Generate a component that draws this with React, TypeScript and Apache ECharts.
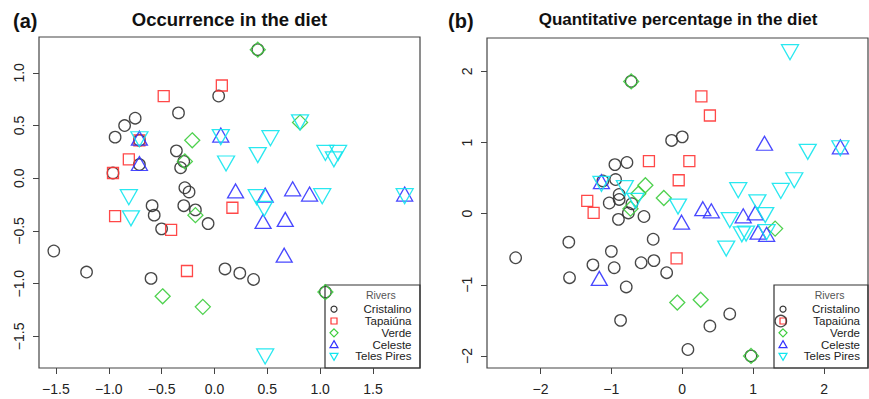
import React, { useEffect, useRef } from "react";
import * as echarts from "echarts";

// ---------- categories ----------
const rivers = ["Cristalino", "Tapaiúna", "Verde", "Celeste", "Teles Pires"];
const riverColors = ["#333333", "#ff3434", "#3ccc3c", "#3434ff", "#12e6ee"];

// ---------- tick labels ----------
const occXTicks = [-1.5, -1.0, -0.5, 0.0, 0.5, 1.0, 1.5];
const occYTicks = [-1.5, -1.0, -0.5, 0.0, 0.5, 1.0];
const quaXTicks = [-2, -1, 0, 1, 2];
const quaYTicks = [-2, -1, 0, 1, 2];

// ---------- (a) Occurrence in the diet ----------
const occCristalino = [
  [-0.94, 0.39], [-0.85, 0.5], [-0.75, 0.57], [-0.34, 0.62], [0.04, 0.78],
  [-0.36, 0.26], [-0.29, 0.16], [-0.32, 0.1], [-0.96, 0.05], [-0.71, 0.36],
  [-0.71, 0.13], [-0.28, -0.09], [-0.24, -0.13], [-0.59, -0.26], [-0.57, -0.35],
  [-0.5, -0.48], [-0.29, -0.26], [-0.18, -0.3], [-0.06, -0.43], [-1.52, -0.69],
  [-1.21, -0.89], [-0.6, -0.95], [0.1, -0.86], [0.24, -0.9], [0.37, -0.96],
  [1.05, -1.08], [0.41, 1.22],
];
const occTapaiuna = [
  [-0.96, 0.05], [-0.81, 0.18], [-0.48, 0.78], [0.07, 0.88], [-0.94, -0.36],
  [-0.41, -0.49], [0.17, -0.28], [-0.26, -0.88], [-0.71, 0.36],
];
const occVerde = [
  [0.41, 1.22], [-0.21, 0.36], [-0.28, 0.16], [0.81, 0.53], [-0.18, -0.35],
  [-0.49, -1.12], [-0.11, -1.22], [1.05, -1.08],
];
const occCeleste = [
  [-0.71, 0.38], [-0.71, 0.14], [0.06, 0.41], [0.2, -0.12], [0.48, -0.16],
  [0.74, -0.1], [0.9, -0.15], [1.8, -0.15], [0.46, -0.41], [0.67, -0.39],
  [0.66, -0.73],
];
const occTelesPires = [
  [-0.71, 0.37], [0.06, 0.39], [0.11, 0.14], [0.41, 0.22], [0.53, 0.38],
  [0.81, 0.53], [1.05, 0.24], [1.17, 0.24], [1.13, 0.18], [-0.81, -0.18],
  [-0.79, -0.38], [0.4, -0.18], [0.47, -0.29], [1.02, -0.17], [1.8, -0.17],
  [0.48, -1.69],
];

// ---------- (b) Quantitative percentage in the diet ----------
const quaCristalino = [
  [-0.72, 1.86], [-0.15, 1.03], [0.0, 1.08], [-0.95, 0.69], [-0.78, 0.72],
  [-0.94, 0.48], [-1.12, 0.46], [-0.89, 0.27], [-1.03, 0.15], [-0.89, 0.2],
  [-0.9, -0.08], [-0.76, 0.01], [-0.71, 0.14], [-0.54, -0.04], [-1.6, -0.4],
  [-2.35, -0.62], [-1.0, -0.53], [-0.41, -0.36], [-1.26, -0.72], [-0.96, -0.76],
  [-0.58, -0.69], [-0.4, -0.66], [-0.22, -0.83], [-1.59, -0.9], [-0.79, -1.03],
  [-0.87, -1.5], [0.67, -1.41], [0.39, -1.58], [0.08, -1.91], [0.97, -2.0],
  [1.39, -1.51],
];
const quaTapaiuna = [
  [0.27, 1.65], [0.39, 1.38], [-0.47, 0.74], [0.1, 0.74], [-0.05, 0.47],
  [-1.34, 0.18], [-1.25, 0.01], [-0.08, -0.63],
];
const quaVerde = [
  [-0.72, 1.86], [-0.52, 0.4], [-0.62, 0.28], [-0.26, 0.22], [-0.73, 0.07],
  [-0.07, -1.25], [0.26, -1.21], [0.97, -2.0], [1.31, -0.21],
];
const quaCeleste = [
  [-1.14, 0.45], [1.16, 0.99], [2.23, 0.94], [0.29, 0.07], [0.41, 0.04],
  [-0.01, -0.12], [0.86, -0.03], [1.03, 0.01], [1.07, -0.26], [1.19, -0.29],
  [-1.17, -0.91],
];
const quaTelesPires = [
  [1.52, 2.27], [1.77, 0.87], [2.23, 0.92], [1.58, 0.47], [1.39, 0.32],
  [0.79, 0.33], [-0.81, 0.36], [-1.14, 0.42], [-0.66, 0.18], [-0.06, 0.1],
  [1.06, 0.16], [0.67, -0.09], [0.62, -0.49], [0.84, -0.29], [0.9, -0.28],
  [1.17, -0.02], [1.19, -0.26],
];

const occData = [occCristalino, occTapaiuna, occVerde, occCeleste, occTelesPires];
const quaData = [quaCristalino, quaTapaiuna, quaVerde, quaCeleste, quaTelesPires];

const symbols = ["circle", "rect", "diamond", "triangle", "triangle"];
const symbolSizes: any[] = [11.5, 11, [15, 15], [16, 14], [17, 15]];
const symbolRotates = [0, 0, 0, 0, 180];

const FONT = "'Liberation Sans', Arial, Helvetica, sans-serif";
const minus = (s: string) => s.replace("-", "\u2212");

function makeSeries(data: number[][][], axisIndex: number) {
  return data.map((pts, i) => ({
    type: "scatter",
    name: rivers[i],
    xAxisIndex: axisIndex,
    yAxisIndex: axisIndex,
    data: pts,
    symbol: symbols[i],
    symbolSize: symbolSizes[i],
    symbolRotate: symbolRotates[i],
    itemStyle: {
      color: "rgba(0,0,0,0)",
      borderColor: riverColors[i],
      borderWidth: 1.3,
      opacity: 0.9,
    },
    emphasis: { disabled: true },
    silent: true,
  }));
}

function axisCommon(ticks: number[], fmt: (v: number) => string, rotate: number, margin: number) {
  return {
    type: "value",
    axisLine: { show: false, onZero: false },
    splitLine: { show: false },
    axisTick: {
      show: true,
      length: 6,
      customValues: ticks,
      lineStyle: { color: "#444", width: 1 },
    },
    axisLabel: {
      customValues: ticks,
      formatter: fmt,
      fontSize: 14,
      fontFamily: FONT,
      color: "#222",
      rotate,
      margin,
      showMinLabel: true,
      showMaxLabel: true,
    },
  };
}

function legendGraphic(x0: number, x1: number, y0: number, y1: number, markerX: number, textRight: number) {
  const els: any[] = [];
  els.push({
    type: "rect",
    shape: { x: x0, y: y0, width: x1 - x0, height: y1 - y0 },
    style: { fill: "none", stroke: "#333", lineWidth: 1.2 },
    silent: true,
  });
  els.push({
    type: "text",
    x: (markerX + textRight) / 2 + 8,
    y: 295,
    style: {
      text: "Rivers",
      font: `10.5px ${FONT}`,
      fill: "#555",
      textAlign: "center",
      textVerticalAlign: "middle",
    },
    silent: true,
  });
  const rowY = [309.2, 321.0, 332.8, 344.6, 356.4];
  rivers.forEach((r, i) => {
    const y = rowY[i];
    const c = riverColors[i];
    const st = { fill: "none", stroke: c, lineWidth: 1.2 };
    let m: any;
    if (i === 0) m = { type: "circle", shape: { cx: markerX, cy: y, r: 3 }, style: st };
    else if (i === 1) m = { type: "rect", shape: { x: markerX - 3, y: y - 3, width: 6, height: 6 }, style: st };
    else if (i === 2)
      m = { type: "polygon", shape: { points: [[markerX, y - 4], [markerX + 4, y], [markerX, y + 4], [markerX - 4, y]] }, style: st };
    else if (i === 3)
      m = { type: "polygon", shape: { points: [[markerX, y - 4], [markerX + 4, y + 3], [markerX - 4, y + 3]] }, style: st };
    else
      m = { type: "polygon", shape: { points: [[markerX, y + 4], [markerX + 4, y - 3], [markerX - 4, y - 3]] }, style: st };
    m.silent = true;
    els.push(m);
    els.push({
      type: "text",
      x: textRight,
      y,
      style: {
        text: r,
        font: `11.5px ${FONT}`,
        fill: "#222",
        textAlign: "right",
        textVerticalAlign: "middle",
      },
      silent: true,
    });
  });
  return els;
}

export default function App() {
  const ref = useRef<HTMLDivElement>(null);
  useEffect(() => {
    document.body.style.margin = "0";
    if (!ref.current) return;
    const chart = echarts.init(ref.current, undefined, { renderer: "svg" });
    const option: any = {
      animation: false,
      backgroundColor: "#ffffff",
      legend: { show: false },
      grid: [
        { left: 39, top: 37, width: 381, height: 331, show: true, borderColor: "#444", borderWidth: 1.2, backgroundColor: "rgba(0,0,0,0)" },
        { left: 487, top: 38, width: 381, height: 330, show: true, borderColor: "#444", borderWidth: 1.2, backgroundColor: "rgba(0,0,0,0)" },
      ],
      xAxis: [
        { ...axisCommon(occXTicks, (v: number) => minus(v.toFixed(1)), 0, 14), gridIndex: 0, min: -1.66, max: 1.945 },
        { ...axisCommon(quaXTicks, (v: number) => minus(String(v)), 0, 14), gridIndex: 1, min: -2.754, max: 2.62 },
      ],
      yAxis: [
        { ...axisCommon(occYTicks, (v: number) => minus(v.toFixed(1)), 90, 13), gridIndex: 0, min: -1.8, max: 1.34 },
        { ...axisCommon(quaYTicks, (v: number) => minus(String(v)), 90, 13), gridIndex: 1, min: -2.17, max: 2.47 },
      ],
      series: [...makeSeries(occData, 0), ...makeSeries(quaData, 1)],
      graphic: [
        {
          type: "text", x: 13, y: 21,
          style: { text: "(a)", font: `bold 20px ${FONT}`, fill: "#111", textAlign: "left", textVerticalAlign: "middle" },
          silent: true,
        },
        {
          type: "text", x: 229.5, y: 19.5,
          style: { text: "Occurrence in the diet", font: `bold 18.5px ${FONT}`, fill: "#111", textAlign: "center", textVerticalAlign: "middle" },
          silent: true,
        },
        {
          type: "text", x: 448, y: 21,
          style: { text: "(b)", font: `bold 20px ${FONT}`, fill: "#111", textAlign: "left", textVerticalAlign: "middle" },
          silent: true,
        },
        {
          type: "text", x: 678, y: 19.5,
          style: { text: "Quantitative percentage in the diet", font: `bold 17px ${FONT}`, fill: "#111", textAlign: "center", textVerticalAlign: "middle" },
          silent: true,
        },
        ...legendGraphic(325, 420, 285, 368, 334, 411.5),
        ...legendGraphic(774, 868, 285, 368, 783, 860),
      ],
    };
    chart.setOption(option);
    return () => chart.dispose();
  }, []);
  return (
    <div
      ref={ref}
      style={{ position: "fixed", left: 0, top: 0, width: 869, height: 399, background: "#fff" }}
    />
  );
}
